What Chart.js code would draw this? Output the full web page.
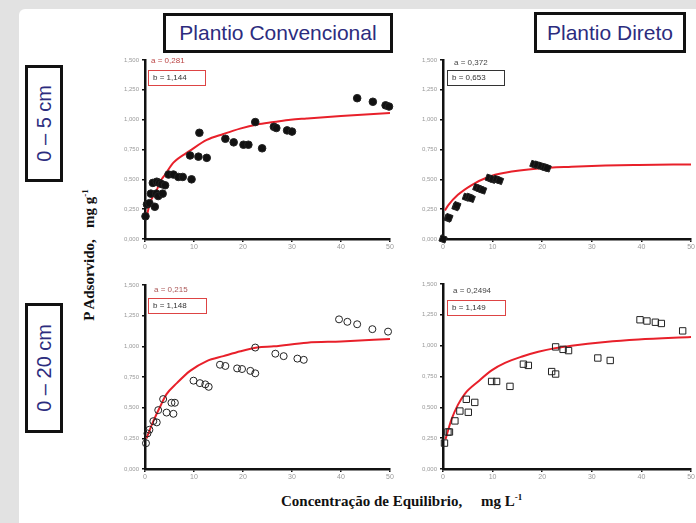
<!DOCTYPE html>
<html>
<head>
<meta charset="utf-8">
<script src="https://cdn.jsdelivr.net/npm/chart.js@4.4.0/dist/chart.umd.min.js"></script>
<style>
  body { margin: 0; width: 696px; height: 523px; background: #e2e2e2; position: relative; overflow: hidden; font-family: "Liberation Sans", Arial, sans-serif; }
  #sheet { position: absolute; left: 19px; top: 9px; right: 0; bottom: 0; background: #fff; border-top-left-radius: 6px; }
  .cv { position: absolute; }
  .title { position: absolute; border: 3px solid #111; color: #2c2c7e; font-size: 21px; display: flex; align-items: center; justify-content: center; background: #fff; box-sizing: border-box; }
  .side { position: absolute; border: 3px solid #111; color: #2c2c7e; font-size: 20px; display: flex; align-items: center; justify-content: center; box-sizing: border-box; }
  .side span { writing-mode: vertical-rl; transform: rotate(180deg); white-space: nowrap; }
  .axt { position: absolute; font-family: "Liberation Serif", "Times New Roman", serif; font-weight: bold; font-size: 15px; color: #111; white-space: nowrap; }
  .ann { position: absolute; font-size: 8px; color: #444; white-space: nowrap; }
  .box { position: absolute; font-size: 8px; color: #333; box-sizing: border-box; padding-left: 4px; line-height: 13px; white-space: nowrap; }
</style>
</head>
<body>
<div id="sheet"></div>

<div class="title" style="left:163px;top:13px;width:230px;height:40px;">Plantio Convencional</div>
<div class="title" style="left:534px;top:12px;width:152px;height:41px;">Plantio Direto</div>
<div class="side" style="left:25px;top:65px;width:38px;height:117px;"><span>0 – 5 cm</span></div>
<div class="side" style="left:25px;top:303px;width:38px;height:130px;"><span>0 – 20 cm</span></div>

<canvas id="tl" class="cv" width="300" height="202" style="left:100px;top:52px;"></canvas>
<canvas id="tr" class="cv" width="298" height="202" style="left:398px;top:52px;"></canvas>
<canvas id="bl" class="cv" width="300" height="207" style="left:100px;top:277px;"></canvas>
<canvas id="br" class="cv" width="298" height="208" style="left:398px;top:276px;"></canvas>

<div class="ann" style="left:151px;top:56px;color:#b44;">a = 0,281</div>
<div class="box" style="left:148px;top:70px;width:58px;height:16px;border:1px solid #d44;">b = 1,144</div>
<div class="ann" style="left:454px;top:58px;">a = 0,372</div>
<div class="box" style="left:447px;top:70px;width:58px;height:16px;border:1px solid #333;">b = 0,653</div>
<div class="ann" style="left:154px;top:285px;color:#a55;">a = 0,215</div>
<div class="box" style="left:148px;top:298px;width:59px;height:16px;border:1px solid #d44;">b = 1,148</div>
<div class="ann" style="left:453px;top:286px;">a = 0,2494</div>
<div class="box" style="left:447px;top:300px;width:59px;height:16px;border:1px solid #d44;">b = 1,149</div>

<div class="axt" style="left:89px;top:255px;transform:translate(-50%,-50%) rotate(-90deg);">P Adsorvido,&nbsp;&nbsp; mg g<sup style="font-size:9px">-1</sup></div>
<div class="axt" style="left:281px;top:492px;">Concentração de Equilibrio,&nbsp;&nbsp;&nbsp;&nbsp; mg L<sup style="font-size:9px">-1</sup></div>

<script>
// x = concentracao de equilibrio (mg/L), y = P adsorvido (mg/g)
const yTicks = [0, 0.25, 0.5, 0.75, 1.0, 1.25, 1.5];
const xTicks = [0, 10, 20, 30, 40, 50];

// Plantio Convencional, 0-5 cm
const tlX = [0.1, 0.4, 0.9, 1.2, 1.6, 2.0, 2.3, 2.4, 2.7, 2.9, 3.4, 3.6, 4.1, 4.8, 5.8, 6.8, 7.7, 9.5, 9.2, 10.9, 12.6, 11.1, 16.4, 18.1, 20.1, 21.1, 22.5, 23.9, 26.3, 26.8, 29.0, 30.0, 43.3, 46.5, 49.1, 49.8];
const tlY = [0.19, 0.29, 0.30, 0.38, 0.47, 0.27, 0.38, 0.48, 0.36, 0.47, 0.46, 0.38, 0.45, 0.54, 0.54, 0.52, 0.52, 0.50, 0.70, 0.69, 0.68, 0.89, 0.84, 0.81, 0.79, 0.79, 0.98, 0.76, 0.94, 0.93, 0.91, 0.90, 1.18, 1.15, 1.12, 1.11];
const tlCurveX = [0.3, 1.0, 2.4, 3.1, 4.1, 5.8, 9.2, 12.6, 16.0, 19.4, 22.9, 26.3, 29.7, 33.0, 40.0, 50.0];
const tlCurveY = [0.18, 0.30, 0.41, 0.48, 0.54, 0.64, 0.74, 0.83, 0.88, 0.925, 0.96, 0.98, 1.0, 1.01, 1.03, 1.055];

// Plantio Direto, 0-5 cm
const trX = [0, 1.0, 1.2, 2.6, 2.8, 4.7, 5.3, 5.7, 6.8, 7.4, 8.0, 9.3, 10.0, 10.8, 11.4, 18.3, 19.0, 19.8, 20.5, 21.0];
const trY = [0, 0.175, 0.18, 0.27, 0.28, 0.35, 0.35, 0.34, 0.43, 0.42, 0.41, 0.51, 0.50, 0.50, 0.49, 0.625, 0.62, 0.61, 0.60, 0.595];
const trCurveX = [0.4, 1.0, 3.0, 5.7, 9.1, 12.5, 19.2, 25.9, 32.7, 39.4, 50.0];
const trCurveY = [0.24, 0.28, 0.37, 0.45, 0.52, 0.555, 0.59, 0.605, 0.615, 0.62, 0.625];

// Plantio Convencional, 0-20 cm
const blX = [0.2, 0.5, 0.9, 1.7, 2.4, 2.7, 4.4, 5.8, 3.7, 5.4, 6.1, 9.9, 11.2, 12.3, 13.0, 15.3, 16.4, 18.8, 19.8, 21.5, 22.5, 22.5, 26.6, 28.3, 31.1, 32.4, 39.6, 41.3, 43.3, 46.4, 49.6];
const blY = [0.21, 0.29, 0.32, 0.39, 0.38, 0.48, 0.46, 0.45, 0.57, 0.54, 0.54, 0.72, 0.70, 0.69, 0.67, 0.85, 0.84, 0.82, 0.815, 0.80, 0.78, 0.99, 0.94, 0.92, 0.90, 0.89, 1.22, 1.20, 1.18, 1.14, 1.12];
const blCurveX = [0.3, 1.7, 3.1, 4.4, 6.5, 9.2, 12.6, 16.0, 19.5, 22.9, 26.3, 33.1, 40.0, 50.0];
const blCurveY = [0.25, 0.39, 0.51, 0.61, 0.70, 0.80, 0.88, 0.92, 0.96, 0.99, 1.0, 1.03, 1.04, 1.06];

// Plantio Direto, 0-20 cm
const brX = [0.3, 1.0, 1.3, 2.4, 3.4, 5.1, 4.7, 6.4, 9.8, 10.8, 13.5, 16.2, 17.2, 21.9, 22.7, 22.7, 24.2, 25.3, 31.2, 33.7, 39.7, 41.1, 42.8, 44.0, 48.3];
const brY = [0.21, 0.30, 0.30, 0.39, 0.47, 0.46, 0.565, 0.54, 0.71, 0.71, 0.67, 0.85, 0.84, 0.79, 0.77, 0.99, 0.97, 0.96, 0.90, 0.88, 1.21, 1.20, 1.19, 1.18, 1.12];
const brCurveX = [0.5, 1.7, 3.0, 4.4, 7.1, 9.8, 12.5, 15.8, 19.2, 22.6, 25.9, 32.7, 39.4, 50.0];
const brCurveY = [0.24, 0.40, 0.52, 0.61, 0.71, 0.80, 0.86, 0.91, 0.95, 0.98, 1.0, 1.03, 1.05, 1.07];

function pts(xs, ys) {
  return xs.map((x, i) => ({ x: x, y: ys[i] }));
}

function makeChart(id, xs, ys, cx, cy, marker, padRight) {
  const ctx = document.getElementById(id).getContext("2d");
  new Chart(ctx, {
    type: "scatter",
    data: {
      datasets: [
        {
          label: "medido",
          data: pts(xs, ys),
          clip: false,
          pointStyle: marker.style,
          pointRadius: marker.radius,
          pointRotation: marker.rotation || 0,
          backgroundColor: marker.fill,
          borderColor: "#222",
          borderWidth: marker.border,
        },
        {
          label: "ajuste",
          type: "line",
          data: pts(cx, cy),
          borderColor: "#e8202a",
          borderWidth: 2,
          pointRadius: 0,
          cubicInterpolationMode: "monotone",
          fill: false,
        },
      ],
    },
    options: {
      animation: false,
      responsive: false,
      layout: { autoPadding: false, padding: { top: 8, right: padRight, left: 0, bottom: 0 } },
      plugins: { legend: { display: false }, tooltip: { enabled: false } },
      scales: {
        x: {
          type: "linear",
          min: 0,
          max: 50,
          afterBuildTicks: (s) => { s.ticks = xTicks.map((v) => ({ value: v })); },
          afterFit: (s) => { s.height = 15; },
          border: { color: "#111", width: 2.5 },
          grid: { drawOnChartArea: false, drawTicks: true, tickLength: 3, color: "#111", lineWidth: 1.5 },
          ticks: { color: "#999", font: { size: 7 }, padding: 1, maxRotation: 0 },
        },
        y: {
          min: 0,
          max: 1.5,
          afterBuildTicks: (s) => { s.ticks = yTicks.map((v) => ({ value: v })); },
          afterFit: (s) => { s.width = 45; },
          border: { color: "#111", width: 2.5 },
          grid: { drawOnChartArea: false, drawTicks: true, tickLength: 3, color: "#111", lineWidth: 1.5 },
          ticks: {
            color: "#999",
            font: { size: 6 },
            padding: 3,
            callback: (v) => v.toFixed(3).replace(".", ","),
          },
        },
      },
    },
  });
}

makeChart("tl", tlX, tlY, tlCurveX, tlCurveY, { style: "circle", radius: 3.8, fill: "#111", border: 1 }, 10);
makeChart("tr", trX, trY, trCurveX, trCurveY, { style: "rect", radius: 4.5, rotation: 20, fill: "#111", border: 1 }, 3);
makeChart("bl", blX, blY, blCurveX, blCurveY, { style: "circle", radius: 3.5, fill: "rgba(0,0,0,0)", border: 1 }, 10);
makeChart("br", brX, brY, brCurveX, brCurveY, { style: "rect", radius: 4.5, fill: "rgba(0,0,0,0)", border: 1 }, 3);
</script>
</body>
</html>
